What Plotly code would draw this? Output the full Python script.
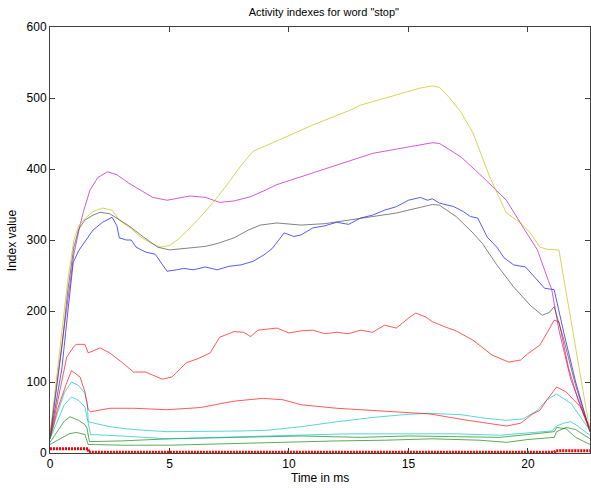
import plotly.graph_objects as go

# ---------------- data ----------------
yellow_t = [0, 0.25, 0.5, 0.75, 1.0, 1.2, 1.46, 1.8, 2.2, 2.6, 2.9, 3.4, 3.8, 4.2, 4.6, 5.0, 5.4,
            5.86, 6.5, 7.0, 7.5, 8.0, 8.5, 9.0, 9.5, 10, 11, 12, 12.5, 13, 14, 15, 15.5, 16, 16.3,
            16.7, 17.2, 17.7, 18.4, 19.1, 19.7, 20.1, 20.5, 20.8, 21.1, 21.3, 22.6]
yellow_v = [25, 100, 175, 245, 300, 320, 330, 340, 345, 342, 328, 316, 304, 296, 290, 292, 302,
            317, 340, 360, 382, 405, 425, 432, 440, 447, 462, 475, 482, 490, 500, 510, 514, 517, 515,
            501, 480, 451, 389, 338, 324, 310, 290, 287, 287, 286, 30]

magenta_t = [0, 0.5, 0.75, 1.0, 1.25, 1.4, 1.67, 2.0, 2.4, 2.8, 3.3, 3.8, 4.3, 4.9, 5.4, 5.86, 6.5,
             7.1, 7.7, 8.4, 9.0, 9.5, 10.5, 11.5, 12.5, 13.5, 14.5, 15.5, 16.0, 16.3, 17.2, 18.1,
             19.1, 19.8, 20.4, 20.8, 21.0, 21.3, 21.8, 22.6]
magenta_v = [25, 150, 220, 280, 320, 340, 370, 388, 396, 392, 380, 370, 360, 356, 359, 362, 360,
             353, 355, 361, 370, 378, 389, 400, 412, 422, 428, 434, 437, 436, 417, 389,
             356, 318, 286, 248, 230, 173, 103, 32]

blue_t = [0, 0.5, 0.75, 0.97, 1.2, 1.46, 1.8, 2.2, 2.6, 2.8, 2.9, 3.2, 3.4, 3.6, 4.0, 4.4, 4.7,
          4.9, 5.3, 5.6, 6.0, 6.5, 7.0, 7.5, 8.0, 8.5, 9.0, 9.3, 9.8, 10.2, 10.5, 11.0, 11.5,
          12.0, 12.5, 13.0, 13.5, 14.0, 14.5, 15.0, 15.5, 15.8, 16.0, 16.3, 16.9, 17.3, 17.6,
          17.9, 18.3, 18.7, 19.0, 19.4, 19.9, 20.4, 20.7, 21.1, 21.5, 22.0, 22.6]
blue_v = [20, 120, 200, 268, 285, 297, 314, 325, 332, 320, 303, 300, 300, 290, 283, 280, 265,
          256, 258, 260, 258, 262, 258, 263, 265, 270, 280, 288, 310, 305, 307, 317, 320,
          325, 322, 331, 335, 342, 347, 356, 360, 356, 358, 352, 347, 340, 333,
          331, 304, 290, 275, 265, 262, 244, 232, 230, 170, 100, 30]

gray_t = [0, 0.5, 0.75, 1.0, 1.2, 1.46, 1.8, 2.1, 2.5, 2.8, 3.3, 3.8, 4.2, 4.5, 5.0, 5.86, 6.5,
          7.0, 7.7, 8.3, 8.8, 9.5, 10.5, 11.5, 12.5, 13.5, 14.5, 15.5, 16.0, 16.3, 17.0, 17.7,
          18.1, 18.7, 19.4, 20.1, 20.6, 20.9, 21.1, 21.5, 22.0, 22.6]
gray_v = [20, 150, 230, 290, 315, 328, 335, 339, 337, 331, 320, 307, 297, 290, 286, 289, 291,
          295, 303, 314, 321, 324, 321, 323, 328, 332, 338, 346, 350, 349, 333, 310,
          295, 265, 234, 208, 194, 198, 206, 160, 95, 30]

red_hi_t = [0, 0.3, 0.7, 1.0, 1.1, 1.46, 1.55, 1.6, 2.1, 2.5, 3.0, 3.5, 4.0, 4.7, 5.1, 5.7, 6.2,
            6.7, 7.1, 7.7, 8.1, 8.4, 8.7, 9.5, 10.0, 10.5, 11.0, 11.5, 12.0, 12.5, 13.0, 13.5,
            14.0, 14.5, 15.0, 15.3, 15.7, 16.0, 16.5, 17.0, 17.7, 18.5, 19.2, 19.7, 20.0, 20.2,
            20.5, 20.8, 21.1, 21.3, 21.7, 22.1, 22.6]
red_hi_v = [20, 70, 135, 150, 153, 153, 145, 141, 148, 141, 128, 114, 114, 104, 107, 127, 133,
            141, 163, 171, 170, 164, 173, 176, 169, 172, 173, 168, 170, 168, 173, 170,
            180, 176, 190, 197, 192, 185, 178, 172, 159, 138, 128, 131, 140, 145,
            152, 169, 187, 185, 120, 75, 30]

red_lo_t = [0, 0.3, 0.7, 0.9, 1.26, 1.46, 1.6, 1.7, 2.5, 3.5, 4.9, 6.3, 7.7, 8.9, 9.75, 10.5,
            12.0, 13.5, 14.6, 15.9, 17.3, 18.2, 19.1, 19.7, 20.2, 20.5, 20.8, 21.2, 21.6, 22.2, 22.6]
red_lo_v = [20, 60, 99, 116, 107, 86, 61, 58, 63, 63, 61, 64, 73, 77, 75, 68,
            63, 60, 57, 55, 47, 42, 38, 42, 55, 60, 75, 93, 86, 65, 35]

cyan_hi_t = [0, 0.3, 0.6, 0.9, 1.2, 1.46, 1.56, 1.6, 2.5, 3.5, 4.9, 6.5, 8.0, 9.1, 10.5, 12.0,
             13.5, 14.8, 15.8, 17.2, 18.2, 19.1, 19.8, 20.4, 20.8, 21.2, 21.8, 22.3, 22.6]
cyan_hi_v = [20, 55, 85, 100, 95, 84, 70, 44, 37, 33, 30, 30, 31, 32, 37, 44,
             50, 54, 56, 54, 49, 46, 48, 60, 75, 83, 70, 46, 32]

cyan_lo_t = [0, 0.3, 0.6, 0.9, 1.2, 1.46, 1.55, 1.7, 3.0, 4.9, 7.0, 10.5, 12.5, 14.6, 17.0,
             18.8, 20.0, 21.0, 21.2, 21.5, 21.8, 22.0, 22.6]
cyan_lo_v = [20, 45, 68, 79, 74, 65, 50, 26, 24, 20, 22, 25, 27, 27, 27,
             25, 28, 31, 38, 42, 44, 40, 25]

green_hi_t = [0, 0.3, 0.6, 0.84, 1.2, 1.46, 1.55, 1.65, 3.0, 5.0, 7.5, 10.5, 13.0, 15.0, 17.0,
              18.8, 20.0, 21.1, 21.2, 21.6, 22.0, 22.6]
green_hi_v = [15, 30, 45, 51, 46, 40, 35, 16, 17, 20, 22, 24, 22, 24, 23,
              22, 26, 30, 36, 34, 22, 12]

green_lo_t = [0, 0.4, 0.8, 1.1, 1.46, 1.6, 3.0, 5.0, 7.0, 10.0, 12.0, 14.0, 16.0, 18.0, 19.1,
              20.0, 21.1, 21.2, 21.6, 22.0, 22.6]
green_lo_v = [12, 20, 27, 29, 26, 12, 11, 11, 13, 15, 17, 18, 20, 18, 15,
              19, 22, 30, 36, 33, 20]

base_t = [0, 1.6, 1.62, 21.1, 21.15, 22.6]
base_v = [6, 6, 1, 1, 3, 3]

series = [
    (blue_t, blue_v, "#0000ff"),
    (green_hi_t, green_hi_v, "#008000"),
    (red_hi_t, red_hi_v, "#ff0000"),
    (cyan_hi_t, cyan_hi_v, "#00bfbf"),
    (magenta_t, magenta_v, "#bf00bf"),
    (yellow_t, yellow_v, "#bfbf00"),
    (gray_t, gray_v, "#404040"),
    (green_lo_t, green_lo_v, "#008000"),
    (red_lo_t, red_lo_v, "#ff0000"),
    (cyan_lo_t, cyan_lo_v, "#00bfbf"),
]

x_ticks = [0, 5, 10, 15, 20]
y_ticks = [0, 100, 200, 300, 400, 500, 600]

fig = go.Figure()
for t, v, c in series:
    fig.add_trace(go.Scatter(x=t, y=v, mode="lines", line=dict(color=c, width=1),
                             opacity=0.65, showlegend=False, hoverinfo="skip"))

fig.add_trace(go.Scatter(x=base_t, y=base_v, mode="lines",
                         line=dict(color="#ff0000", width=3, dash="2px,1px"),
                         showlegend=False, hoverinfo="skip"))

font = "Liberation Sans, Arial, sans-serif"
fig.update_layout(
    width=591, height=488,
    margin=dict(l=50, r=1, t=27, b=35),
    paper_bgcolor="white", plot_bgcolor="white",
    font=dict(family=font, size=12, color="black"),
    title=dict(text='Activity indexes for word "stop"', x=0.548, xanchor="center",
               y=0.975, yanchor="middle", font=dict(size=11, family=font)),
    xaxis=dict(range=[0, 22.6], tickvals=x_ticks, ticks="inside", ticklen=5,
               tickcolor="#404040", showline=True, linecolor="#404040", linewidth=1,
               mirror="ticks", showgrid=False, zeroline=False, automargin=False,
               tickfont=dict(size=12)),
    yaxis=dict(range=[0, 600], tickvals=y_ticks, ticks="inside", ticklen=5,
               tickcolor="#404040", showline=True, linecolor="#404040", linewidth=1,
               mirror="ticks", showgrid=False, zeroline=False, automargin=False,
               tickfont=dict(size=12)),
    annotations=[
        dict(text="Time in ms", xref="paper", yref="paper", x=0.5, y=-0.058,
             xanchor="center", yanchor="middle", showarrow=False, font=dict(size=12)),
        dict(text="Index value", xref="paper", yref="paper", x=-0.07, y=0.5,
             xanchor="center", yanchor="middle", textangle=-90, showarrow=False,
             font=dict(size=12)),
    ],
)

fig.write_html("out.html", config={"displayModeBar": False, "staticPlot": True},
               post_script="document.body.style.margin='0';document.body.style.padding='0';")
